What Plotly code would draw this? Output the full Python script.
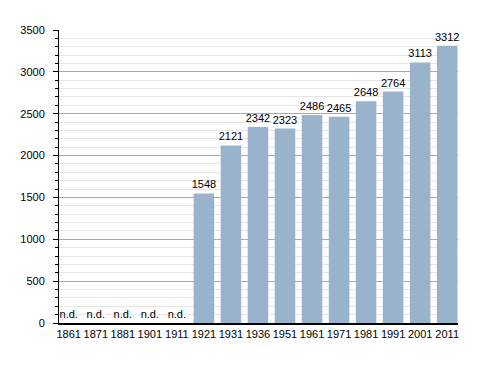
import plotly.graph_objects as go

years = ["1861", "1871", "1881", "1901", "1911", "1921", "1931", "1936",
         "1951", "1961", "1971", "1981", "1991", "2001", "2011"]
population = [None, None, None, None, None, 1548, 2121, 2342,
              2323, 2486, 2465, 2648, 2764, 3113, 3312]
y_ticks = [0, 500, 1000, 1500, 2000, 2500, 3000, 3500]

bar_vals = [v if v is not None else 0 for v in population]
labels = [str(v) if v is not None else "n.d." for v in population]

fig = go.Figure()
fig.add_trace(go.Bar(
    x=years, y=bar_vals, text=labels, textposition="outside",
    textfont=dict(size=11, color="black", family="Liberation Sans, Arial"),
    marker=dict(color="rgb(153,179,205)", line=dict(width=0)),
    constraintext="none", cliponaxis=False, hoverinfo="skip",
))

fig.update_layout(
    width=488, height=373,
    margin=dict(l=42, r=38, t=22, b=58),
    plot_bgcolor="white", paper_bgcolor="white",
    bargap=0.24, showlegend=False,
    font=dict(family="Liberation Sans, Arial", size=11, color="black"),
    uniformtext=dict(minsize=11, mode="show"),
)
fig.update_xaxes(
    type="category", range=[-0.36, 14.4], showline=True, linecolor="black",
    linewidth=1.5, ticks="", showgrid=False, tickfont=dict(size=11),
    ticklabelstandoff=0,
)
fig.update_yaxes(
    range=[0, 3500], tickvals=y_ticks, showline=True, linecolor="black",
    linewidth=1, ticks="outside", ticklen=5, tickcolor="black",
    showgrid=True, gridcolor="#a8a8a8", gridwidth=1, zeroline=False,
    tickfont=dict(size=11), ticklabelstandoff=6,
    minor=dict(dtick=100, ticks="outside", ticklen=3, tickcolor="black",
               showgrid=True, gridcolor="#e6e6e6", gridwidth=1),
)

fig.write_html("out.html")
